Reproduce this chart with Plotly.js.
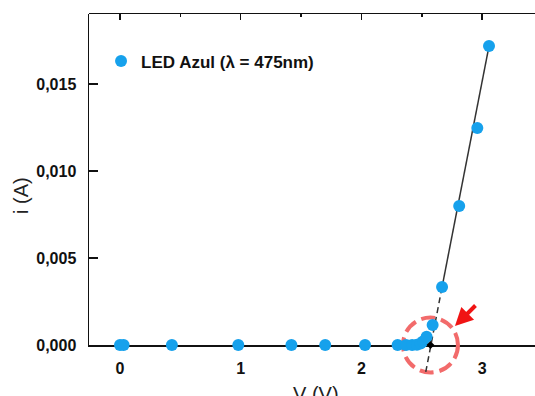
<!DOCTYPE html>
<html>
<head>
<meta charset="utf-8">
<script src="https://cdn.plot.ly/plotly-3.0.1.min.js"></script>
<style>html,body{margin:0;padding:0;background:#fff;}#chart{width:535px;height:396px;}</style>
</head>
<body>
<div id="chart"></div>
<script>
// ---- data ----
const voltage = [0.00, 0.03, 0.43, 0.98, 1.42, 1.70, 2.03, 2.30, 2.37, 2.42, 2.46, 2.49, 2.51, 2.54, 2.59, 2.668, 2.81, 2.96, 3.057];
const current = [0, 0, 0, 0, 0, 0, 0, 0, 0, 0, 0.00002, 0.00008, 0.0002, 0.00048, 0.00115, 0.00333, 0.00799, 0.01247, 0.01718];
const fitSolidV = [2.668, 3.057];
const fitSolidI = [0.00333, 0.01718];
const fitDashV = [2.533, 2.668];
const fitDashI = [-0.00155, 0.00333];
const thresholdV = [2.572];
const thresholdI = [0];
const xTicks = [0, 1, 2, 3];
const yTicks = [0, 0.005, 0.010, 0.015];
const seriesName = 'LED Azul (λ = 475nm)';

// ---- layout geometry ----
const W = 535, H = 396;
const mL = 89, mR = 0, mT = 14, mB = 0;
const plotH = H - mT - mB;
const mainBottomPx = 345;                 // pixel row of i = 0 axis
const yDom0 = (H - mB - mainBottomPx) / plotH;
const xRange = [-0.2568, 3.438];
const yRange = [0, 0.01902];
const mainH = mainBottomPx - mT;
const y2Range = [yRange[1] - (yRange[1] - yRange[0]) * plotH / mainH, yRange[1]];

const FONT = 'Arial, "Liberation Sans", sans-serif';
const blue = '#16a1ec';

const traces = [
  {x: fitSolidV, y: fitSolidI, xaxis: 'x', yaxis: 'y', mode: 'lines', showlegend: false,
   line: {color: '#333', width: 1.5}, hoverinfo: 'skip'},
  {x: fitDashV, y: fitDashI, xaxis: 'x2', yaxis: 'y2', mode: 'lines', showlegend: false,
   line: {color: '#333', width: 1.5, dash: '6px,4px'}, hoverinfo: 'skip'},
  {x: voltage, y: current, xaxis: 'x2', yaxis: 'y2', mode: 'markers', name: seriesName,
   marker: {color: blue, size: 12}, cliponaxis: false},
  {x: thresholdV, y: thresholdI, xaxis: 'x2', yaxis: 'y2', mode: 'markers', showlegend: false,
   marker: {color: '#000', size: 6, symbol: 'diamond'}}
];

const rX = 0.2278, rY = 0.00158;
const layout = {
  width: W, height: H,
  margin: {l: mL, r: mR, t: mT, b: mB, pad: 0},
  paper_bgcolor: '#fff', plot_bgcolor: 'rgba(0,0,0,0)',
  separators: ',.',
  font: {family: FONT, color: '#222'},
  showlegend: true,
  legend: {x: 0.027, y: 0.923, xanchor: 'left', yanchor: 'top', bgcolor: 'rgba(0,0,0,0)',
           font: {family: FONT, size: 17, color: '#111', weight: 'bold'}},
  xaxis: {domain: [0, 1], range: xRange, anchor: 'y', showline: true, linecolor: '#111', linewidth: 1.5,
          ticks: '', tickvals: xTicks, tickformat: 'd', showgrid: false, zeroline: false,
          tickfont: {family: FONT, size: 16, color: '#111', weight: 'bold'}, ticklabelstandoff: 8},
  yaxis: {domain: [yDom0, 1], range: yRange, anchor: 'x', showline: true, linecolor: '#111', linewidth: 1.5,
          ticks: 'inside', ticklen: 9, tickwidth: 1.5, tickcolor: '#111', tickvals: yTicks, tickformat: '.3f',
          showgrid: false, zeroline: false, ticklabelstandoff: 8,
          tickfont: {family: FONT, size: 16, color: '#111', weight: 'bold'}},
  xaxis2: {domain: [0, 1], range: xRange, anchor: 'y2', side: 'top', showline: true, linecolor: '#111', linewidth: 1.5,
           ticks: 'inside', ticklen: 6, tickwidth: 1.5, tickcolor: '#111', dtick: 1, tick0: 0,
           minor: {ticks: 'inside', ticklen: 3, tickwidth: 1.5, tickcolor: '#111', dtick: 0.5},
           showticklabels: false, showgrid: false, zeroline: false},
  yaxis2: {domain: [0, 1], range: y2Range, anchor: 'x2', visible: false, showgrid: false, zeroline: false},
  shapes: [
    {type: 'circle', xref: 'x2', yref: 'y2', layer: 'below',
     x0: thresholdV[0] - rX, x1: thresholdV[0] + rX, y0: thresholdI[0] - rY, y1: thresholdI[0] + rY,
     line: {color: '#f26b6b', width: 4, dash: '14px,6px'}}
  ],
  annotations: [
    {xref: 'x2', yref: 'y2', x: 2.775, y: 0.00109, ax: 22, ay: -22, text: '', showarrow: true,
     arrowcolor: '#f01414', arrowwidth: 4, arrowhead: 2, arrowsize: 0.9, standoff: 0},
    {xref: 'paper', yref: 'paper', x: (21 - mL) / (W - mL - mR), y: (H - mB - 196) / plotH,
     xanchor: 'center', yanchor: 'middle', textangle: -90, showarrow: false, text: 'i (A)',
     font: {family: FONT, size: 20, color: '#222'}},
    {xref: 'paper', yref: 'paper', x: (316 - mL) / (W - mL - mR), y: (H - mB - 394) / plotH,
     xanchor: 'center', yanchor: 'middle', showarrow: false, text: 'V (V)',
     font: {family: FONT, size: 20, color: '#222'}}
  ]
};

Plotly.newPlot('chart', traces, layout, {displayModeBar: false, staticPlot: true});
</script>
</body>
</html>
